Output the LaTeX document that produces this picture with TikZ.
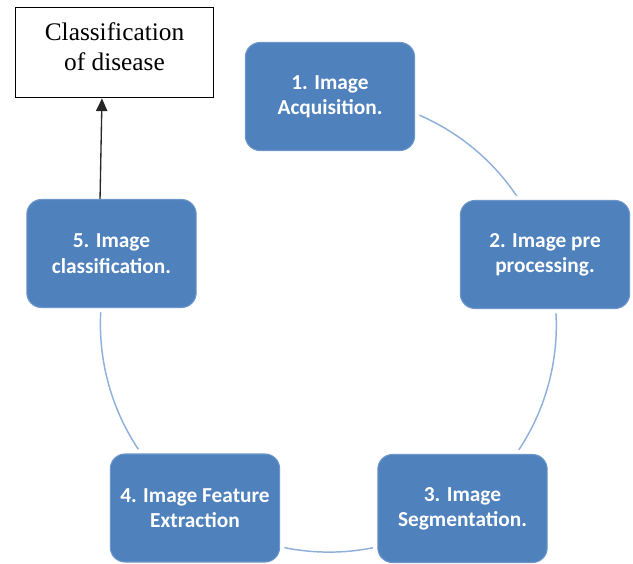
\documentclass[tikz,border=0pt]{standalone}
\usepackage{fontspec}
\setmainfont{Liberation Serif}
\newfontfamily\boxfont{Carlito}
\usepackage{xcolor}
\usepackage{tikz}
\usetikzlibrary{arrows.meta, backgrounds}

\definecolor{stageblue}{HTML}{4F81BD}
\definecolor{stageedge}{HTML}{6D97CB}
\definecolor{ringblue}{HTML}{8FB0DA}

\begin{document}
\begin{tikzpicture}[x=0.75pt, y=-0.75pt, >={Triangle[width=8.5pt,length=9.5pt]}, align=center,
  stage/.style={rectangle, rounded corners=11pt, fill=stageblue, draw=stageedge, line width=0.8pt,
    preaction={draw=white, line width=7pt},
    minimum width=127pt, minimum height=81pt, text=white, font=\boxfont\bfseries\fontsize{16}{19}\selectfont},
  result/.style={rectangle, draw=black, line width=0.9pt, minimum width=149pt, minimum height=68pt,
    font=\fontsize{19}{22}\selectfont},
  ring/.style={draw=ringblue, line width=1.1pt, bend left=36, looseness=0.95}]
\useasboundingbox (0,0) rectangle (633,564);
\node[result] at (114.5,52.5) (disease) {Classification\\of disease\\[-13pt]};
\node[stage] at (330,96.5) (s1) {1. Image\\Acquisition.};
\node[stage] at (545,254.5) (s2) {2. Image pre\\processing.};
\node[stage] at (462.5,508.5) (s3) {3. Image\\Segmentation.};
\node[stage] at (195,508) (s4) {4. Image Feature\\Extraction};
\node[stage] at (111.5,253.5) (s5) {5. Image\\classification.};
\begin{pgfonlayer}{background}
\draw[ring] (s1.center) to (s2.center);
\draw[ring] (s2.center) to (s3.center);
\draw[ring] (s3.center) to (s4.center);
\draw[ring] (s4.center) to (s5.center);
\end{pgfonlayer}
\draw[->, draw=black!85, line width=1pt] ([xshift=-8.6pt]s5.north) -- ([xshift=-9.4pt]disease.south);
\end{tikzpicture}
\end{document}
